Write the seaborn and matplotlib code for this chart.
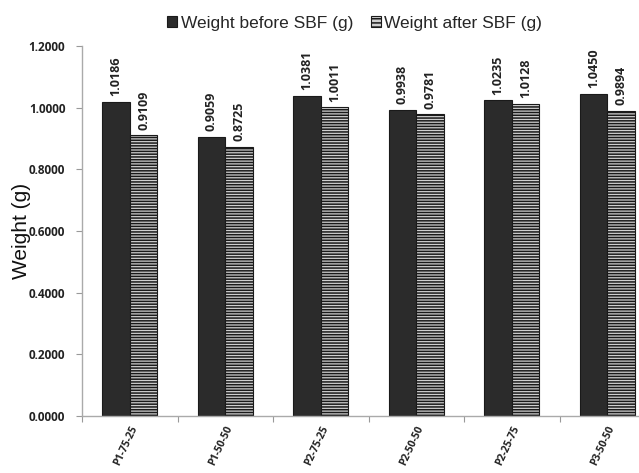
import matplotlib
matplotlib.use("Agg")
import matplotlib.pyplot as plt
import matplotlib.patches as mpatches
from matplotlib.ticker import FixedLocator
import seaborn as sns
import pandas as pd

# Sample names and masses before / after immersion in simulated body fluid
samples = ["P1-75-25", "P1-50-50", "P2-75-25", "P2-50-50", "P2-25-75", "P3-50-50"]
weight_before = [1.0186, 0.9059, 1.0381, 0.9938, 1.0235, 1.0450]
weight_after = [0.9109, 0.8725, 1.0011, 0.9781, 1.0128, 0.9894]
series_names = ["Weight before SBF (g)", "Weight after SBF (g)"]
y_ticks = [0.0, 0.2, 0.4, 0.6, 0.8, 1.0, 1.2]

df = pd.DataFrame({
    "sample": samples * 2,
    "series": [series_names[0]] * len(samples) + [series_names[1]] * len(samples),
    "weight": weight_before + weight_after,
})

sns.set_theme(style="white")
plt.rcParams["hatch.linewidth"] = 1.1
plt.rcParams["hatch.color"] = "black"

fig = plt.figure(figsize=(6.39, 4.73), dpi=100)
ax = fig.add_axes([82 / 639, 57 / 473, 573 / 639, 370 / 473])

sns.barplot(data=df, x="sample", y="weight", hue="series", order=samples,
            hue_order=series_names, palette=["#2b2b2b", "#cfcfcf"],
            width=0.58, saturation=1, edgecolor="#1a1a1a", linewidth=0.8,
            legend=False, ax=ax)

# Horizontal line pattern for the "after" bars
for bar in ax.containers[1]:
    bar.set_hatch("------")

label_font = dict(family="Open Sans", weight="bold", size=9, color="#222222")
for cont, vals in zip(ax.containers, [weight_before, weight_after]):
    ax.bar_label(cont, labels=[f"{v:.4f}" for v in vals], rotation=90,
                 padding=4, **label_font)

ax.set_ylim(0, 1.2)
ax.set_xlim(-0.5, len(samples) - 0.5)
ax.set_yticks(y_ticks)
ax.set_yticklabels([f"{t:.4f}" for t in y_ticks],
                   fontdict=dict(family="Open Sans", weight="bold", size=8.5, color="#222222"))
ax.tick_params(axis="y", which="major", direction="out", length=4, width=0.8,
               color="#999999", pad=8, left=True)

# Category labels between boundary tick marks
ax.set_xticks(range(len(samples)))
ax.set_xticklabels(samples, rotation=65, ha="right", rotation_mode="anchor",
                   fontdict=dict(family="Open Sans", weight="bold", size=7.5, color="#222222"))
ax.tick_params(axis="x", which="major", length=0, pad=6)
ax.xaxis.set_minor_locator(FixedLocator([i + 0.5 for i in range(-1, len(samples))]))
ax.tick_params(axis="x", which="minor", direction="out", length=4, width=0.8,
               color="#999999", bottom=True)

for side in ["top", "right"]:
    ax.spines[side].set_visible(False)
for side in ["left", "bottom"]:
    ax.spines[side].set_color("#aaaaaa")
    ax.spines[side].set_linewidth(1.0)

ax.set_xlabel("")
ax.set_ylabel("Weight (g)", family="Liberation Sans", size=15, color="#111111", labelpad=-2)

handles = [
    mpatches.Patch(facecolor="#2b2b2b", edgecolor="#1a1a1a", linewidth=0.8),
    mpatches.Patch(facecolor="#cfcfcf", edgecolor="#1a1a1a", linewidth=0.8, hatch="----"),
]
fig.legend(handles, series_names, loc="upper center", bbox_to_anchor=(0.555, 1.0),
           ncol=2, frameon=False, handlelength=0.6, handleheight=0.6,
           handletextpad=0.2, columnspacing=1.0,
           prop=dict(family="Liberation Sans", size=12.5))

fig.savefig("out.png", dpi=100)
